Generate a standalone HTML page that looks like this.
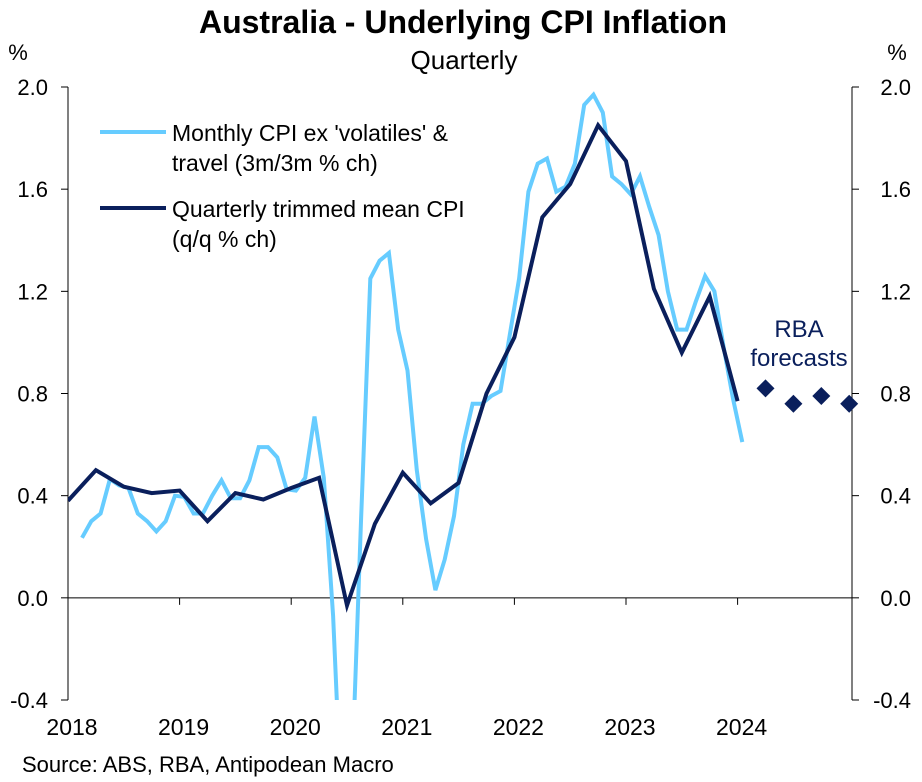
<!DOCTYPE html>
<html><head><meta charset="utf-8"><style>
html,body{margin:0;background:#fff;overflow:hidden;width:922px;height:782px}
svg{display:block}
svg text{font-family:"Liberation Sans",Arial,sans-serif}
</style></head><body>
<svg id="chart" width="922" height="782" viewBox="0 0 922 782" xmlns="http://www.w3.org/2000/svg">
<rect width="922" height="782" fill="#fff"/>
<text x="463" y="33" font-size="32" font-weight="bold" text-anchor="middle">Australia - Underlying CPI Inflation</text>
<text x="464" y="69" font-size="26" text-anchor="middle">Quarterly</text>
<text x="18" y="60" font-size="22" text-anchor="middle">%</text>
<text x="897" y="60" font-size="22" text-anchor="middle">%</text>
<g id="axes"></g>
<g id="series"></g>
<g>
<line x1="100" y1="132" x2="166" y2="132" stroke="#66ccff" stroke-width="4"/>
<text x="172" y="141" font-size="23">Monthly CPI ex 'volatiles' &amp;</text>
<text x="172" y="171" font-size="23">travel (3m/3m % ch)</text>
<line x1="100" y1="208" x2="166" y2="208" stroke="#0a1f5c" stroke-width="4"/>
<text x="172" y="217" font-size="23">Quarterly trimmed mean CPI</text>
<text x="172" y="247" font-size="23">(q/q % ch)</text>
</g>
<text x="799" y="337" font-size="24" fill="#0a1f5c" text-anchor="middle">RBA</text>
<text x="799" y="366" font-size="24" fill="#0a1f5c" text-anchor="middle">forecasts</text>
<text x="22" y="772" font-size="22">Source: ABS, RBA, Antipodean Macro</text>
</svg>
<script>
const yTicks = [-0.4, 0.0, 0.4, 0.8, 1.2, 1.6, 2.0];
const yTickLabels = ["-0.4", "0.0", "0.4", "0.8", "1.2", "1.6", "2.0"];
const years = [2018, 2019, 2020, 2021, 2022, 2023, 2024];
const quarterly = [0.38,0.50,0.435,0.41,0.42,0.30,0.41,0.385,0.43,0.47,-0.03,0.29,0.49,0.37,0.45,0.80,1.02,1.49,1.62,1.85,1.71,1.21,0.96,1.18,0.77];
const forecasts = [0.82,0.76,0.79,0.76];
const monthly = [0.235,0.30,0.33,0.465,0.44,0.43,0.33,0.30,0.26,0.30,0.40,0.395,0.33,0.33,0.40,0.46,0.39,0.39,0.46,0.59,0.59,0.55,0.425,0.42,0.47,0.71,0.47,-0.07,-0.9,-0.72,0.30,1.25,1.32,1.35,1.05,0.89,0.50,0.23,0.03,0.15,0.32,0.60,0.76,0.76,0.79,0.81,1.03,1.25,1.59,1.70,1.72,1.59,1.61,1.70,1.93,1.97,1.90,1.65,1.62,1.58,1.65,1.53,1.42,1.20,1.05,1.05,1.16,1.26,1.20,0.98,0.78,0.61];

const NS="http://www.w3.org/2000/svg";
const L=68,R=852,T=87,B=700,yMin=-0.4,yMax=2.0;
const yS=v=>B-(v-yMin)/(yMax-yMin)*(B-T);
const qW=27.9;
const xQ=i=>L+qW*i;
const xM=k=>82+qW/3*k;
const xY=y=>L+(y-2018)*qW*4;
function mk(tag,attrs,parent){const e=document.createElementNS(NS,tag);for(const k in attrs)e.setAttribute(k,attrs[k]);parent.appendChild(e);return e;}
const ax=document.getElementById('axes'), sr=document.getElementById('series');

let e=mk('line',{x1:L,y1:T,x2:L,y2:B,stroke:'#000','stroke-width':1},ax);


e=mk('line',{x1:R,y1:T,x2:R,y2:B,stroke:'#000','stroke-width':1},ax);


e=mk('line',{x1:L,y1:yS(0),x2:R,y2:yS(0),stroke:'#000','stroke-width':1},ax);



yTicks.forEach((v,i)=>{
  const y=yS(v);
  mk('line',{x1:L-7,y1:y,x2:L,y2:y,stroke:'#000'},ax);
  mk('line',{x1:R,y1:y,x2:R+7,y2:y,stroke:'#000'},ax);
  let t=mk('text',{x:L-20,y:y+8,'font-size':22,'text-anchor':'end'},ax);t.textContent=yTickLabels[i];
  
  
  t=mk('text',{x:R+59,y:y+8,'font-size':22,'text-anchor':'end'},ax);t.textContent=yTickLabels[i];
  
  
});
years.forEach(yr=>{
  const x=xY(yr);
  if(yr>2018) mk('line',{x1:x,y1:yS(0),x2:x,y2:yS(0)+7,stroke:'#000'},ax);
  const t=mk('text',{x:x+4,y:735,'font-size':23,'text-anchor':'middle'},ax);t.textContent=yr;
  
  
});

const clip=mk('clipPath',{id:'pc'},mk('defs',{},sr));
mk('rect',{x:L,y:T-10,width:R-L,height:B-T+10},clip);

let p=mk('polyline',{points:monthly.map((v,k)=>xM(k)+','+yS(v)).join(' '),fill:'none',stroke:'#66ccff','stroke-width':4,'stroke-linejoin':'miter','clip-path':'url(#pc)'},sr);


p=mk('polyline',{points:quarterly.map((v,i)=>xQ(i)+','+yS(v)).join(' '),fill:'none',stroke:'#0a1f5c','stroke-width':4,'clip-path':'url(#pc)'},sr);


forecasts.forEach((v,j)=>{
  const x=xQ(quarterly.length+j),y=yS(v),s=9;
  const d=mk('polygon',{points:`${x},${y-s} ${x+s},${y} ${x},${y+s} ${x-s},${y}`,fill:'#0a1f5c'},sr);
  
  
});
</script>
</body></html>
